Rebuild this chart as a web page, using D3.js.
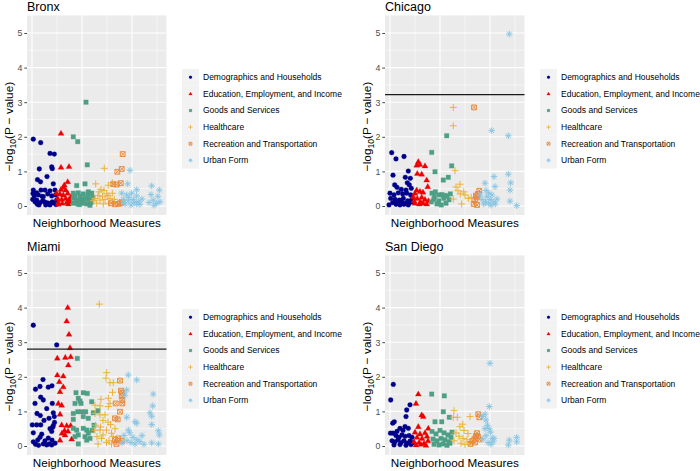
<!DOCTYPE html>
<html>
<head>
<meta charset="utf-8">
<script src="https://cdn.jsdelivr.net/npm/d3@7"></script>
<style>
  body { margin: 0; background: #fff; }
  svg { display: block; font-family: "Liberation Sans", Arial, sans-serif; }
</style>
</head>
<body>
<svg id="chart" width="700" height="471"></svg>
<script>
// Categories (legend order)
const categories = [
    "Demographics and Households",
    "Education, Employment, and Income",
    "Goods and Services",
    "Healthcare",
    "Recreation and Transportation",
    "Urban Form"
];
const yTicks = [0, 1, 2, 3, 4, 5];

// Each point: [measure index, -log10(p)]
const bronxDemo = [[1.3,1.93],[8.7,1.83],[18,1.52],[22.3,1.5],[7.3,1.07],[19.7,1.13],[20.3,1.08],[15,0.85],[5.5,0.76],[8.5,0.7],[21.3,0.64],
    [1.3,0.46],[4.7,0.38],[9,0.46],[13,0.46],[18,0.44],[23,0.46],[2.3,0.29],[6.3,0.32],[11.3,0.27],[15.7,0.35],[19.7,0.29],[23.7,0.32],
    [4.7,0.17],[8,0.1],[12.3,0.12],[16.3,0.08],[20.3,0.12],[24.7,0.17],[7,0.03],[13.7,0.03],[18,0.03],[0.7,0.19],[3,0.12],[10.7,0.15],
    [14,0.1],[21.3,0.09],[5.3,0.05],[17,0.05],[24,0.04],[1,0.36],[10,0.28]];
const bronxEdu = [[29,2.1],[29,1.12],[37,1.14],[35.7,0.7],[32.3,0.61],[29,0.48],[33.7,0.46],[31.5,0.54],[24.7,0.37],[28,0.35],[31.3,0.32],
    [35.7,0.37],[25.7,0.22],[29.7,0.19],[33.7,0.22],[37,0.19],[26.3,0.1],[30.3,0.08],[34.7,0.1],[26.3,0.05],[36.3,0.06],[39,0.27],[38,0.12]];
const bronxGoods = [[54,3.0],[41.3,2.0],[45.7,1.86],[55.3,1.19],[44.7,0.59],[53,0.64],[41.3,0.37],[46.3,0.38],[51.3,0.35],[56.3,0.41],
    [59.7,0.37],[41.3,0.22],[44.7,0.17],[49,0.19],[53,0.22],[57,0.19],[60.7,0.25],[41.3,0.08],[45.7,0.06],[50.3,0.08],[54.7,0.06],
    [59,0.1],[43,0.3],[48,0.28],[52,0.12],[56,0.3],[47.5,0.04],[58,0.02]];
const bronxHealth = [[72.3,1.09],[63.7,0.64],[69,0.48],[80.3,0.67],[76.3,0.6],[67,0.41],[74.7,0.35],[80.3,0.37],[63,0.22],[68,0.17],[73,0.19],
    [78,0.22],[82.3,0.19],[64.7,0.08],[71.3,0.06],[77,0.08],[61.3,0.15],[66,0.3],[70.5,0.28],[76,0.3],[82,0.1],[72,0.45]];
const bronxRec = [[90.7,1.5],[85.3,0.99],[89.7,1.07],[81.3,0.63],[84.7,0.62],[88.7,0.66],[79,0.08],[83,0.05],[86.3,0.06],[88,0.08],[89.7,0.12]];
const bronxUrban = [[98,1.03],[95.7,0.64],[104.7,0.47],[119.7,0.58],[127.3,0.46],[119,0.33],[89.7,0.37],[94.7,0.32],[99.7,0.37],[104.7,0.29],
    [91.3,0.19],[96.3,0.15],[101.3,0.19],[106.3,0.12],[93,0.06],[99,0.03],[104.7,0.06],[121.3,0.17],[124.7,0.08],[128,0.12],[97,0.25],
    [102,0.1],[108,0.05],[110,0.2],[92,0.1],[122,0.02],[117,0.1],[126,0.28]];

const chicagoDemo = [[1.7,1.54],[6,1.36],[14,1.43],[3,0.89],[18.3,1.01],[15.3,0.83],[20.3,0.8],[17.3,0.67],[19.3,0.61],[4.7,0.61],[7,0.54],
    [11.3,0.48],[16,0.46],[21.3,0.51],[0,0.37],[4,0.32],[8.3,0.38],[12.7,0.35],[16.7,0.37],[20.7,0.32],[0.7,0.22],[5,0.19],[9.3,0.17],
    [13.3,0.22],[17.7,0.15],[21.7,0.19],[2.7,0.1],[7.3,0.08],[11.7,0.12],[16,0.08],[20,0.1],[-1,0.03],[10,0.03],[18.3,0.03],[23,0.12],[14,0.05],[6,0.05]];
const chicagoEdu = [[28.3,1.28],[26.7,1.18],[30,1.2],[35,1.16],[27.3,0.94],[31.7,0.92],[36.7,0.75],[37.7,0.56],[26.7,0.46],[30,0.42],[25,0.37],
    [33,0.4],[23.3,0.27],[27.3,0.22],[31.7,0.25],[35,0.19],[25,0.08],[29.3,0.06],[33.3,0.08],[36.7,0.06],[38.5,0.15],[24,0.15],[30.5,0.12]];
const chicagoGoods = [[41.7,1.55],[45,0.99],[56.7,2.03],[61.7,1.16],[53.3,0.75],[58.3,0.83],[42,0.37],[45.3,0.41],[49.3,0.32],[43.7,0.19],
    [48.7,0.15],[53.7,0.22],[57,0.29],[60.3,0.35],[47,0.06],[51.3,0.03],[56,0.08],[41.3,0.12],[52,0.33],[55,0.3],[44.5,0.28],[59,0.18]];
const chicagoHealth = [[63.3,2.85],[63.3,2.32],[65,1.02],[70,0.63],[68,0.44],[73.7,0.41],[70.3,0.35],[63.3,0.2],[81.3,0.25],[71.7,0.06],
    [78.3,0.22],[66,0.55],[75,0.32]];
const chicagoRec = [[84,2.85],[89.3,0.44],[88,0.35],[87,0.25],[85.3,0.17],[83.7,0.06],[87,0.03],[86,0.3]];
const chicagoUrban = [[119.3,4.97],[101.7,2.18],[118.3,2.03],[118.3,0.92],[104,0.85],[120.7,0.67],[95,0.66],[105,0.56],[120,0.46],[120,0.14],
    [126.7,0.01],[98.7,0.38],[102,0.32],[97,0.27],[92,0.19],[100.3,0.19],[103.7,0.12],[98.7,0.08],[93.7,0.06],[105.3,0.06],[90.3,0.32],
    [96,0.45],[107,0.2],[95.5,0.12],[101,0.02]];

const miamiDemo = [[1.3,3.49],[24.7,2.92],[11,1.92],[8,1.72],[16.3,1.7],[3.5,1.64],[20,1.74],[8.7,1.41],[11.3,1.33],[3,1.23],[20.3,1.23],
    [14.7,1.08],[5,0.94],[8.3,0.88],[21.3,0.96],[22.3,0.85],[17,0.8],[12,0.74],[0.3,0.61],[4.7,0.61],[8.7,0.61],[21.3,0.59],[22.5,0.68],
    [1.3,0.38],[9.7,0.34],[18,0.5],[19.7,0.42],[20.7,0.54],[1.3,0.12],[5.7,0.17],[8,0.25],[11.3,0.06],[14.7,0.03],[17.3,0.06],[19.7,0.03],
    [23,0.08],[16.3,0.23],[20,0.17],[3.5,0.05],[6.5,0.02],[13,0.15]];
const miamiEdu = [[35.7,4.0],[34.7,3.61],[37,3.23],[38,2.84],[25.3,2.54],[33.3,2.56],[38.7,2.58],[36.3,2.34],[25.3,2.05],[27.3,1.86],[31.3,2.02],
    [28,1.57],[31.3,1.71],[26.3,1.23],[29.7,1.18],[28,0.92],[29.7,0.61],[34.7,0.59],[38.7,0.59],[32.5,0.45],[36,0.43],[28,0.17],[39.7,0.2],
    [30,0.37],[33,0.32]];
const miamiGoods = [[45.3,2.53],[51.3,1.54],[55.3,1.52],[44,1.54],[46.3,1.38],[48,1.3],[43,1.23],[49,1.23],[41.3,0.94],[45.7,0.99],[49.7,0.99],
    [53.7,0.99],[59.7,1.28],[41.3,0.77],[51.3,0.85],[56.3,0.8],[61.3,0.96],[66,1.02],[41.3,0.51],[44.7,0.46],[51.3,0.51],[54.7,0.46],
    [56.3,0.37],[46.3,0.32],[43,0.27],[53,0.27],[58,0.22],[46.3,0.06],[54.7,0.17],[60,0.45],[62,0.6]];
const miamiHealth = [[67.3,4.1],[74.7,2.12],[74,1.96],[78,1.83],[81.3,1.83],[80.5,1.55],[76.3,1.38],[69,1.35],[63,1.18],[68,1.16],[76.3,1.14],
    [78,1.23],[63,0.94],[68,0.9],[73,0.9],[71,0.74],[76,0.69],[63.5,0.6],[68.5,0.55],[78.5,0.62],[63,0.46],[68,0.46],[74.5,0.46],[79.5,0.37],
    [83,0.5],[65,0.27],[69.5,0.22],[77,0.15],[81,0.27],[66,0.06],[74.5,0.1],[79.5,0.06],[71,0.32],[84,0.15]];
const miamiRec = [[88,1.89],[89,1.6],[90.3,1.54],[89.7,1.45],[90.3,1.33],[90.3,1.23],[83.7,1.23],[88,0.99],[83,0.8],[85.7,0.77],[83,0.17],
    [86.3,0.22],[89.7,0.15],[84.5,0.06]];
const miamiUrban = [[96.3,2.05],[104.7,1.91],[94.7,1.62],[93,1.47],[121.3,1.5],[120.7,1.16],[118,0.96],[119.7,0.86],[94.7,0.83],[103,0.7],
    [104.7,0.66],[119.7,0.62],[126.3,0.44],[127.3,0.32],[119.7,0.09],[126.3,0.06],[96.3,0.46],[92,0.3],[98,0.38],[101,0.25],[105,0.18],
    [95,0.15],[99,0.1],[103,0.06],[108,0.12],[90,0.08],[110,0.3],[112,0.05]];

const sdDemo = [[3.3,1.78],[0.7,1.33],[20,1.19],[16.7,1.04],[4.3,0.7],[2.7,0.66],[16,0.85],[15,0.56],[18.3,0.51],[10,0.51],[0.5,0.37],[3,0.37],
    [6,0.3],[9,0.25],[12,0.32],[15,0.28],[19,0.3],[22,0.25],[2,0.15],[5,0.12],[8,0.18],[11,0.1],[14,0.15],[17,0.08],[20,0.14],[23,0.1],
    [4,0.03],[10,0.04],[16,0.02],[21,0.04],[7,0.42],[13,0.45]];
const sdEdu = [[28.3,1.5],[26,1.23],[31.7,0.9],[33.3,0.85],[28.3,0.56],[38.3,0.51],[25,0.4],[30,0.35],[35,0.38],[27,0.25],[32,0.22],[37,0.28],
    [24,0.12],[29,0.1],[34,0.08],[38,0.15],[26,0.03],[31,0.05],[36,0.02]];
const sdGoods = [[41.7,1.5],[54.3,1.45],[53.3,0.99],[59.3,0.83],[45,0.7],[51.7,0.7],[42,0.42],[46,0.35],[50,0.45],[54,0.38],[58,0.32],[62,0.4],
    [43,0.2],[47,0.15],[51,0.22],[55,0.18],[59,0.12],[61,0.25],[44,0.05],[49,0.03],[53,0.06],[57,0.02],[60,0.08]];
const sdHealth = [[64,1.02],[80,0.85],[63.3,0.83],[67.3,0.83],[72.7,0.63],[70,0.56],[74,0.45],[66,0.38],[78,0.36],[69,0.28],[73,0.22],[77,0.18],
    [64,0.15],[71,0.08],[75,0.04],[80,0.1]];
const sdRec = [[88.3,0.92],[89.3,0.83],[87,0.37],[86,0.29],[84.5,0.21],[82.5,0.15],[80.5,0.06],[89.5,0.19],[88,0.27],[85,0.1]];
const sdUrban = [[100,2.39],[99.3,1.14],[95,0.92],[92.7,0.85],[96,0.75],[97.5,0.6],[99,0.5],[100.5,0.4],[102,0.22],[104,0.22],[96,0.3],[93,0.2],
    [98,0.1],[101,0.05],[119.3,0.17],[118.3,0.03],[126.7,0.25],[126.7,0.12],[95,0.5],[103,0.12]];

const cities = [
    { name: "Bronx", series: [bronxDemo, bronxEdu, bronxGoods, bronxHealth, bronxRec, bronxUrban], threshold: null },
    { name: "Chicago", series: [chicagoDemo, chicagoEdu, chicagoGoods, chicagoHealth, chicagoRec, chicagoUrban], threshold: 3.22 },
    { name: "Miami", series: [miamiDemo, miamiEdu, miamiGoods, miamiHealth, miamiRec, miamiUrban], threshold: 2.8 },
    { name: "San Diego", series: [sdDemo, sdEdu, sdGoods, sdHealth, sdRec, sdUrban], threshold: null }
];

const colors = ["#00008B", "#EE0000", "#4E9F86", "#ECB030", "#E8883A", "#88C5E3"];
const shapes = ["circle", "triangle", "square", "plus", "squarecross", "asterisk"];

// marker path around (0,0); k scales the size
function markerPath(shape, k) {
    const p = d3.path();
    if (shape === "circle") {
        p.arc(0, 0, 2.4 * k, 0, 2 * Math.PI);
    } else if (shape === "triangle") {
        const s = 3.1 * k;
        p.moveTo(0, -s); p.lineTo(s * 0.95, s * 0.65); p.lineTo(-s * 0.95, s * 0.65); p.closePath();
    } else if (shape === "square") {
        const s = 2.25 * k;
        p.rect(-s, -s, 2 * s, 2 * s);
    } else if (shape === "plus") {
        const s = 3.5 * k;
        p.moveTo(-s, 0); p.lineTo(s, 0); p.moveTo(0, -s); p.lineTo(0, s);
    } else if (shape === "squarecross") {
        const s = 2.4 * k;
        p.rect(-s, -s, 2 * s, 2 * s);
        p.moveTo(-s, -s); p.lineTo(s, s); p.moveTo(s, -s); p.lineTo(-s, s);
    } else if (shape === "asterisk") {
        const s = 3.3 * k, d = s * 0.72;
        p.moveTo(-s, 0); p.lineTo(s, 0); p.moveTo(0, -s); p.lineTo(0, s);
        p.moveTo(-d, -d); p.lineTo(d, d); p.moveTo(d, -d); p.lineTo(-d, d);
    }
    return p.toString();
}
const filled = s => s === "circle" || s === "triangle" || s === "square";

const svg = d3.select("#chart");
const colOffsets = [0, 358];
const rowOffsets = [0, 240];
const panel = { left: 27, right: 166.5, top: 15, bottom: 215 };

const x = d3.scaleLinear().domain([-5, 134.5]).range([panel.left, panel.right]);
const y = d3.scaleLinear().domain([-0.26, 5.52]).range([panel.bottom, panel.top]);

cities.forEach((city, ci) => {
    const g = svg.append("g")
        .attr("transform", `translate(${colOffsets[ci % 2]},${rowOffsets[Math.floor(ci / 2)]})`);

    g.append("rect")
        .attr("x", panel.left).attr("y", panel.top)
        .attr("width", panel.right - panel.left).attr("height", panel.bottom - panel.top)
        .attr("fill", "#EBEBEB");

    // grid
    const grid = g.append("g");
    [0.5, 1.5, 2.5, 3.5, 4.5, 5.5].forEach(v => grid.append("line")
        .attr("x1", panel.left).attr("x2", panel.right).attr("y1", y(v)).attr("y2", y(v))
        .attr("stroke", "#fff").attr("stroke-width", 0.5));
    [25, 75, 125].forEach(v => grid.append("line")
        .attr("y1", panel.top).attr("y2", panel.bottom).attr("x1", x(v)).attr("x2", x(v))
        .attr("stroke", "#fff").attr("stroke-width", 0.5));
    yTicks.forEach(v => grid.append("line")
        .attr("x1", panel.left).attr("x2", panel.right).attr("y1", y(v)).attr("y2", y(v))
        .attr("stroke", "#fff").attr("stroke-width", 1.1));
    [0, 50, 100].forEach(v => grid.append("line")
        .attr("y1", panel.top).attr("y2", panel.bottom).attr("x1", x(v)).attr("x2", x(v))
        .attr("stroke", "#fff").attr("stroke-width", 1.1));

    // points
    city.series.forEach((pts, si) => {
        g.append("g").selectAll("path")
            .data(pts)
            .join("path")
            .attr("transform", d => `translate(${x(d[0])},${y(d[1])})`)
            .attr("d", markerPath(shapes[si], 1))
            .attr("fill", filled(shapes[si]) ? colors[si] : "none")
            .attr("stroke", colors[si])
            .attr("stroke-width", filled(shapes[si]) ? 0.3 : 0.95);
    });

    if (city.threshold !== null) {
        g.append("line")
            .attr("x1", panel.left).attr("x2", panel.right)
            .attr("y1", y(city.threshold)).attr("y2", y(city.threshold))
            .attr("stroke", "#1a1a1a").attr("stroke-width", 1.1);
    }

    // y axis
    const yAxis = g.append("g")
        .attr("transform", `translate(${panel.left},0)`)
        .call(d3.axisLeft(y).tickValues(yTicks).tickSize(2.7).tickPadding(2).tickFormat(d3.format("d")));
    yAxis.select(".domain").remove();
    yAxis.selectAll(".tick line").attr("stroke", "#333").attr("stroke-width", 0.9);
    yAxis.selectAll(".tick text").attr("fill", "#4D4D4D").attr("font-size", 8.8)
        .attr("font-family", "Liberation Sans, Arial, sans-serif");

    // titles
    g.append("text")
        .attr("x", panel.left).attr("y", 10.5)
        .attr("font-size", 12.5).attr("fill", "#000")
        .text(city.name);

    g.append("text")
        .attr("x", (panel.left + panel.right) / 2).attr("y", 227)
        .attr("text-anchor", "middle").attr("font-size", 11.7).attr("fill", "#000")
        .text("Neighborhood Measures");

    const yt = g.append("text")
        .attr("transform", `translate(13,126.5) rotate(-90)`)
        .attr("text-anchor", "middle").attr("font-size", 11.8).attr("fill", "#000");
    yt.append("tspan").text("\u2212log");
    yt.append("tspan").attr("font-size", 8.5).attr("dy", 2.8).text("10");
    yt.append("tspan").attr("dy", -2.8).text("(P \u2212 value)");

    // legend
    const lg = g.append("g").attr("transform", "translate(182,69)");
    const keyH = 16.6;
    categories.forEach((c, i) => {
        lg.append("rect")
            .attr("x", 0).attr("y", i * keyH)
            .attr("width", 17).attr("height", keyH)
            .attr("fill", "#F2F2F2");
        lg.append("path")
            .attr("transform", `translate(8.5,${i * keyH + keyH / 2})`)
            .attr("d", markerPath(shapes[i], 0.6))
            .attr("fill", filled(shapes[i]) ? colors[i] : "none")
            .attr("stroke", colors[i])
            .attr("stroke-width", filled(shapes[i]) ? 0.2 : 0.8);
        lg.append("text")
            .attr("x", 21).attr("y", i * keyH + keyH / 2)
            .attr("dy", "0.35em")
            .attr("font-size", 8.5).attr("fill", "#000")
            .text(c);
    });
});
</script>
</body>
</html>
